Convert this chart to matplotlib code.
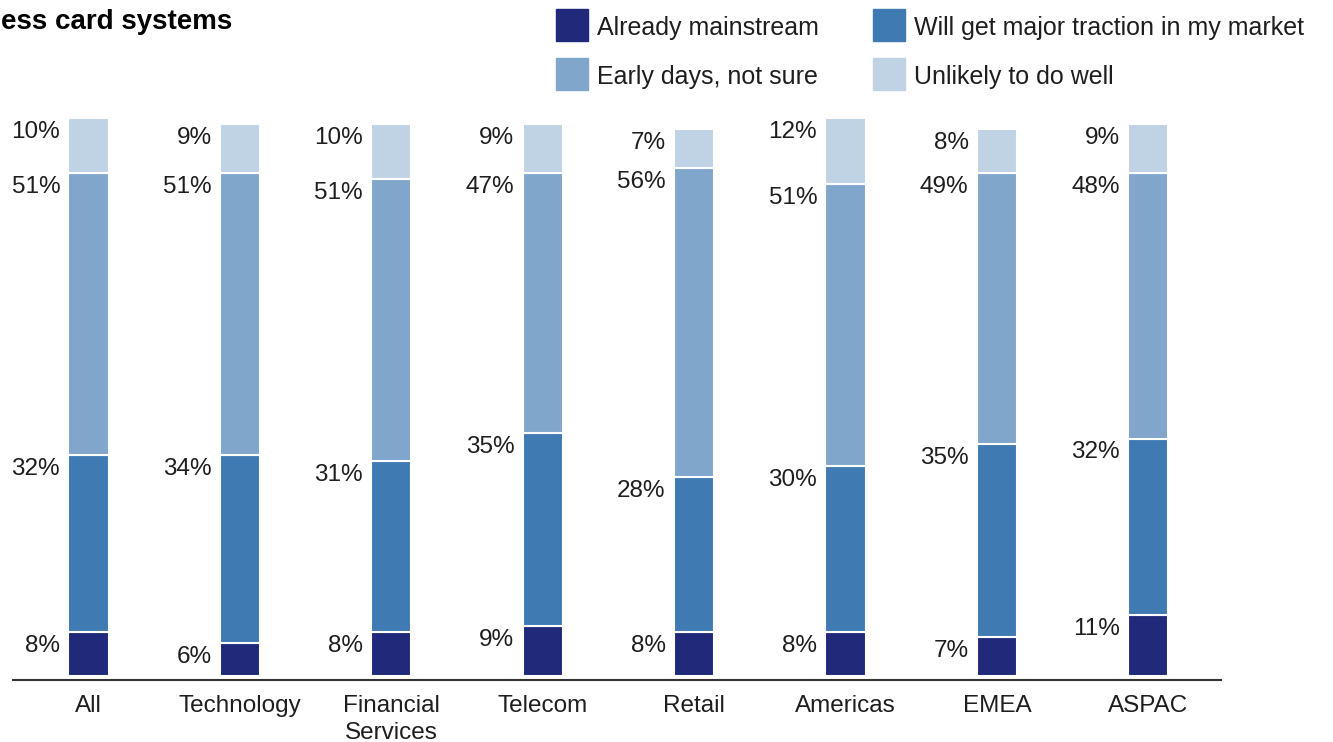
import matplotlib
matplotlib.use("Agg")
import matplotlib.pyplot as plt
import numpy as np
from matplotlib.patches import Rectangle

plt.rcParams['font.family'] = ['Liberation Sans', 'DejaVu Sans']

categories = ["All", "Technology", "Financial\nServices", "Telecom", "Retail",
              "Americas", "EMEA", "ASPAC"]
series_names = ["Already mainstream", "Will get major traction in my market",
                "Early days, not sure", "Unlikely to do well"]
already = [8, 6, 8, 9, 8, 8, 7, 11]
traction = [32, 34, 31, 35, 28, 30, 35, 32]
early = [51, 51, 51, 47, 56, 51, 49, 48]
unlikely = [10, 9, 10, 9, 7, 12, 8, 9]
colors = ["#20297A", "#407AB2", "#80A6CC", "#C0D3E5"]

W, H = 1333, 742
fig = plt.figure(figsize=(W / 100, H / 100), dpi=100)
# axes placed from pixel measurements of the reference
ax = fig.add_axes([13 / W, (H - 680) / H, (1221 - 13) / W, (680 - 100) / H])

x = np.arange(len(categories))
bottom = np.zeros(len(categories))
for vals, col in zip([already, traction, early, unlikely], colors):
    vals = np.array(vals)
    ax.bar(x, vals, bottom=bottom, width=0.265, color=col,
           edgecolor="white", linewidth=1.5)
    for xi, b, v in zip(x, bottom, vals):
        ax.annotate(f"{v}%", xy=(xi - 0.1325, b + v), xytext=(-6, -10),
                    textcoords="offset points", ha="right", va="center",
                    fontsize=17.5, color="#1e1e1e")
    bottom += vals

ax.set_xlim(-0.499, 7.48)
ax.set_ylim(-0.72, 104.3)
ax.set_xticks(x)
ax.set_xticklabels(categories, fontsize=17.5, color="#1e1e1e", linespacing=1.25)
ax.tick_params(axis="x", length=0, pad=11)
ax.set_yticks([])
for s in ["top", "right", "left"]:
    ax.spines[s].set_visible(False)
ax.spines["bottom"].set_color("#333333")
ax.spines["bottom"].set_linewidth(1.5)

fig.text(0.001, 1 - 22 / H, "ess card systems", fontsize=20, fontweight="bold",
         ha="left", va="center")

# legend, two columns
leg_pos = [(556, 25), (873, 25), (556, 74), (873, 74)]
for (px, py), name, col in zip(leg_pos, series_names, colors):
    fig.patches.append(Rectangle((px / W, 1 - (py + 16) / H), 32 / W, 32 / H,
                                 transform=fig.transFigure, color=col))
    fig.text((px + 41) / W, 1 - (py + 3) / H, name, fontsize=18, color="#1e1e1e",
             ha="left", va="center")

fig.savefig("out.png", dpi=100)
